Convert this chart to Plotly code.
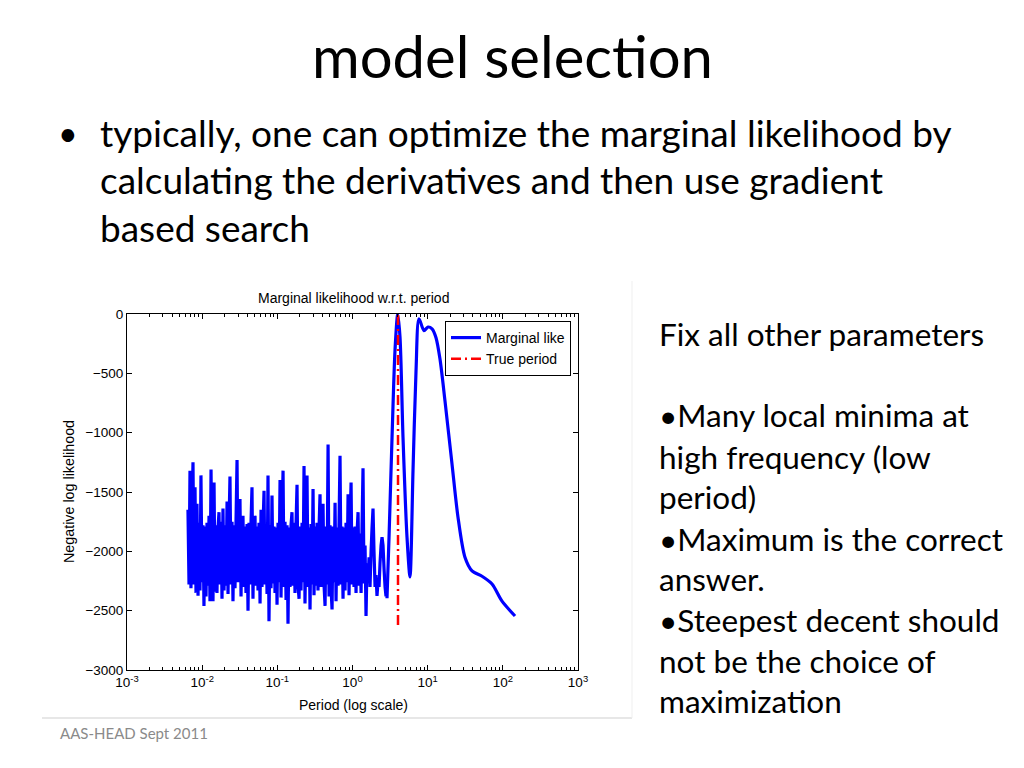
import plotly.graph_objects as go

# ---------------- data ----------------
# noisy low-period part: log10(period) and negative log likelihood
noisy_logp = [
    -2.189, -2.175, -2.162, -2.149, -2.135, -2.122, -2.109, -2.095, -2.082, -2.069,
    -2.055, -2.042, -2.029, -2.016, -2.002, -1.989, -1.976, -1.962, -1.949, -1.936,
    -1.922, -1.909, -1.896, -1.882, -1.869, -1.856, -1.842, -1.829, -1.816, -1.803,
    -1.789, -1.776, -1.763, -1.749, -1.736, -1.723, -1.709, -1.696, -1.683, -1.669,
    -1.656, -1.643, -1.630, -1.616, -1.603, -1.590, -1.576, -1.563, -1.550, -1.536,
    -1.523, -1.510, -1.497, -1.483, -1.470, -1.457, -1.443, -1.430, -1.417, -1.403,
    -1.390, -1.377, -1.363, -1.350, -1.337, -1.324, -1.310, -1.297, -1.284, -1.270,
    -1.257, -1.244, -1.230, -1.217, -1.204, -1.190, -1.177, -1.164, -1.151, -1.137,
    -1.124, -1.111, -1.097, -1.084, -1.071, -1.057, -1.044, -1.031, -1.017, -1.004,
    -0.991, -0.978, -0.964, -0.951, -0.938, -0.924, -0.911, -0.898, -0.884, -0.871,
    -0.858, -0.844, -0.831, -0.818, -0.805, -0.791, -0.778, -0.765, -0.751, -0.738,
    -0.725, -0.711, -0.698, -0.685, -0.671, -0.658, -0.645, -0.632, -0.618, -0.605,
    -0.592, -0.578, -0.565, -0.552, -0.538, -0.525, -0.512, -0.498, -0.485, -0.472,
    -0.459, -0.445, -0.432, -0.419, -0.405, -0.392, -0.379, -0.365, -0.352, -0.339,
    -0.325, -0.312, -0.299, -0.286, -0.272, -0.259, -0.246, -0.232, -0.219, -0.206,
    -0.192, -0.179, -0.166, -0.152, -0.139, -0.126, -0.113, -0.099, -0.086, -0.073,
    -0.059, -0.046, -0.033, -0.019, -0.006, 0.007, 0.020, 0.034, 0.047, 0.060,
    0.074, 0.087, 0.100, 0.114, 0.127, 0.140, 0.153, 0.167, 0.180, 0.193,
    0.207, 0.220, 0.233, 0.247, 0.260, 0.273, 0.286, 0.300, 0.313, 0.326,
    0.340, 0.353, 0.366, 0.380, 0.393, 0.406, 0.420, 0.433, 0.446,
]
noisy_like = [
    -1650, -2280, -1320, -2310, -1700, -1250, -2280, -1460, -2350, -1600,
    -2375, -1760, -2330, -1360, -2260, -1780, -2460, -1790, -2380, -1760,
    -2290, -1700, -2420, -1310, -2270, -2420, -1420, -2340, -1780, -2350,
    -1800, -1670, -2280, -1750, -2400, -1640, -2330, -1780, -2290, -1580,
    -2360, -1790, -1370, -2280, -1750, -2420, -1780, -2310, -1760, -1230,
    -2260, -1800, -1560, -2380, -1780, -1700, -2300, -1790, -2350, -1770,
    -2500, -1760, -2280, -1750, -1460, -2400, -1780, -1700, -2290, -1790,
    -2330, -1760, -2440, -1650, -2300, -1780, -1490, -2280, -1770, -2360,
    -1360, -2590, -1780, -2310, -1530, -2270, -1790, -2350, -1800, -2450,
    -1760, -2260, -1400, -2390, -1790, -1320, -2300, -1750, -2410, -1780,
    -2610, -1800, -2300, -1780, -1670, -2290, -1760, -2350, -1770, -1440,
    -2280, -2400, -1790, -2330, -1760, -2260, -1280, -2440, -1780, -1360,
    -2300, -1800, -2490, -1770, -2280, -1475, -2370, -1790, -2290, -1760,
    -2330, -1800, -1520, -2300, -1780, -1600, -2280, -2460, -1790, -2280,
    -1100, -2380, -1780, -2300, -2490, -1790, -2260, -1590, -2420, -1800,
    -2290, -1760, -1195, -2280, -1790, -2400, -1800, -2330, -1760, -2260,
    -1520, -2370, -1780, -1420, -2280, -1800, -2300, -1790, -2350, -1850,
    -1670, -2290, -1850, -2350, -1780, -1300, -2270, -1950, -2545, -2100,
    -2250, -2050, -2300, -2000, -1800, -1640, -2000, -2300, -2200, -2375,
    -2250, -2300, -2100, -1950, -1880, -1950, -2150, -2300, -2380,
]
# smooth long-period part
smooth_logp = [0.459, 0.486, 0.526, 0.566, 0.602, 0.632, 0.672, 0.725, 0.765, 0.805,
               0.845, 0.885, 0.951, 1.004, 1.058, 1.111, 1.164, 1.230, 1.324, 1.403,
               1.496, 1.590, 1.723, 1.856, 1.989, 2.162]
smooth_like = [-2395, -1880, -1040, -300, 0, -195, -1040, -1880, -2215, -1320,
               -480, -40, -140, -110, -125, -200, -380, -730, -1265, -1710,
               -2050, -2165, -2210, -2275, -2420, -2545]

true_period = 4.03
true_span = [-2620, 0]

x_tick_vals = [1e-3, 1e-2, 1e-1, 1e0, 1e1, 1e2, 1e3]
x_tick_text = ["10<sup>-3</sup>", "10<sup>-2</sup>", "10<sup>-1</sup>", "10<sup>0</sup>",
               "10<sup>1</sup>", "10<sup>2</sup>", "10<sup>3</sup>"]
y_tick_vals = [-3000, -2500, -2000, -1500, -1000, -500, 0]

title_text = "model selection"
bullet_lines = ["typically, one can optimize the marginal likelihood by",
                "calculating the derivatives and then use gradient",
                "based search"]
side_lines = ["Fix all other parameters", "•Many local minima at", "high frequency (low",
              "period)", "•Maximum is the correct", "answer.", "•Steepest decent should",
              "not be the choice of", "maximization"]
footer_text = "AAS-HEAD Sept 2011"

# ---------------- figure ----------------
# page has an 8px body margin; figure sized so the page is exactly 1024x768
OFF = 8
W, H = 1024 - 2 * OFF, 768 - 2 * OFF
def px(x):
    return (x - OFF) / W
def py(y):
    return 1 - (y - OFF) / H

AX_FONT = "Liberation Sans, Arial, sans-serif"
SLIDE_FONT = "Lato, Carlito, Calibri, sans-serif"

fig = go.Figure()
fig.add_trace(go.Scatter(
    x=[10 ** v for v in noisy_logp], y=noisy_like, mode="lines",
    line=dict(color="#0000ff", width=3.2, simplify=False), name="Marginal like",
    legendgroup="ml", showlegend=False))
fig.add_trace(go.Scatter(
    x=[10 ** v for v in smooth_logp], y=smooth_like, mode="lines",
    line=dict(color="#0000ff", width=3.2, shape="spline", smoothing=0.8, simplify=False),
    name="Marginal like", legendgroup="ml", showlegend=True))
fig.add_trace(go.Scatter(
    x=[true_period, true_period], y=true_span, mode="lines",
    line=dict(color="#ff0000", width=2.5, dash="10px,4px,2px,4px"),
    name="True period"))

minor_vals = [m * 10 ** e for e in range(-3, 3) for m in range(2, 10)]

fig.update_xaxes(
    type="log", range=[-3, 3], domain=[px(127), px(578)], automargin=False,
    tickvals=x_tick_vals, ticktext=x_tick_text,
    ticks="inside", ticklen=5, tickcolor="black",
    showline=True, linecolor="black", linewidth=1, mirror="ticks",
    showgrid=False, zeroline=False,
    tickfont=dict(family=AX_FONT, size=13.5, color="black"),
    minor=dict(tickvals=minor_vals, ticks="inside", ticklen=3, tickcolor="black", showgrid=False),
)
fig.update_yaxes(
    range=[-3000, 0], domain=[py(670), py(314)], automargin=False,
    tickvals=y_tick_vals,
    ticks="inside", ticklen=5, tickcolor="black",
    showline=True, linecolor="black", linewidth=1, mirror="ticks",
    showgrid=False, zeroline=False,
    tickfont=dict(family=AX_FONT, size=13.5, color="black"),
)

annotations = []
# chart texts
annotations.append(dict(x=px(353), y=py(298), text="Marginal likelihood w.r.t. period",
                        font=dict(family=AX_FONT, size=14, color="black")))
annotations.append(dict(x=px(353), y=py(705), text="Period (log scale)",
                        font=dict(family=AX_FONT, size=14, color="black")))
annotations.append(dict(x=px(69), y=py(492), text="Negative log likelihood", textangle=-90,
                        font=dict(family=AX_FONT, size=14.3, color="black")))
# slide texts
annotations.append(dict(x=px(512), y=py(55), text=title_text,
                        font=dict(family=SLIDE_FONT, size=58, color="black")))
annotations.append(dict(x=px(68), y=py(133), text="•", xanchor="center",
                        font=dict(family=SLIDE_FONT, size=34, color="black")))
for yy, t in zip([133, 180, 227], bullet_lines):
    annotations.append(dict(x=px(98), y=py(yy), text=t, xanchor="left",
                            font=dict(family=SLIDE_FONT, size=37, color="black")))
for yy, t in zip([334, 415, 457, 497, 539, 579, 620, 661, 701], side_lines):
    annotations.append(dict(x=px(657), y=py(yy), text=t, xanchor="left",
                            font=dict(family=SLIDE_FONT, size=31.5, color="black")))
annotations.append(dict(x=px(58), y=py(733), text=footer_text, xanchor="left",
                        font=dict(family=SLIDE_FONT, size=15, color="#8a8a8a")))
for a in annotations:
    a.setdefault("xanchor", "center")
    a["yanchor"] = "middle"
    a["xref"] = "paper"
    a["yref"] = "paper"
    a["showarrow"] = False

shapes = [
    dict(type="line", xref="paper", yref="paper", x0=px(42), x1=px(632), y0=py(718), y1=py(718),
         line=dict(color="#cfcfcf", width=1)),
    dict(type="line", xref="paper", yref="paper", x0=px(632), x1=px(632), y0=py(281), y1=py(718),
         line=dict(color="#efefef", width=1)),
]

fig.update_layout(
    width=W, height=H, margin=dict(l=0, r=0, t=0, b=0, pad=0, autoexpand=False),
    paper_bgcolor="white", plot_bgcolor="white",
    annotations=annotations, shapes=shapes,
    legend=dict(x=px(571), y=py(321), xanchor="right", yanchor="top",
                bgcolor="white", bordercolor="black", borderwidth=1,
                font=dict(family=AX_FONT, size=14, color="black"),
                tracegroupgap=0, itemwidth=30),
    showlegend=True,
)

fig.write_html("out.html")
